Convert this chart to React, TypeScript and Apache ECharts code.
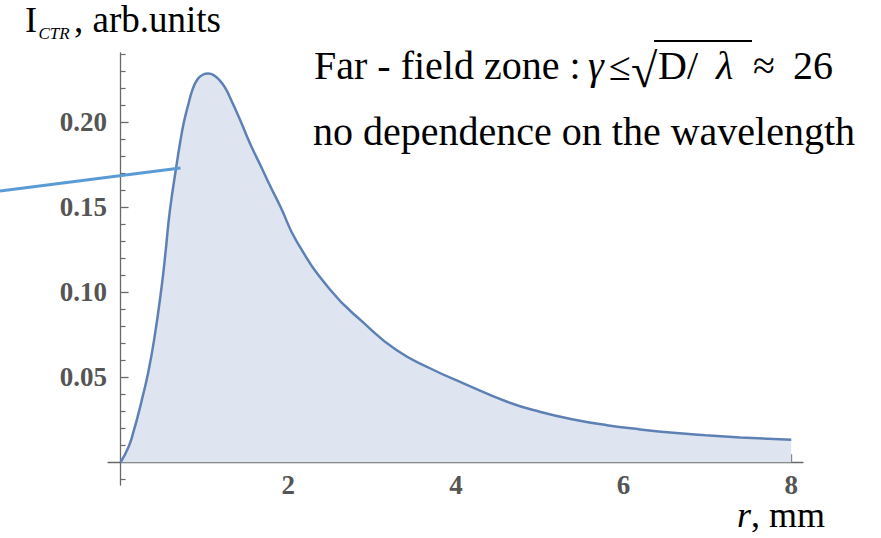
import { useEffect, useRef } from "react";
import * as echarts from "echarts";

// Radial distance r (mm) and CTR intensity (arb. units)
const radius = [
  0, 0.1, 0.16, 0.21, 0.26, 0.322, 0.4, 0.489, 0.535, 0.588, 0.665, 0.71, 0.755, 0.8, 0.86, 0.92,
  0.98, 1.045, 1.11, 1.18, 1.245, 1.33, 1.425, 1.54, 1.685, 1.78, 1.91, 2.1, 2.5, 2.9, 3.29, 3.69,
  4.09, 4.61, 5.0, 5.4, 5.8, 6.2, 6.59, 6.99, 7.39, 8.0,
];
const intensity = [
  0, 0.0096, 0.019, 0.028, 0.038, 0.051, 0.072, 0.103, 0.123, 0.148, 0.174, 0.188, 0.2, 0.209, 0.2195,
  0.2255, 0.228, 0.2287, 0.2278, 0.2248, 0.2205, 0.212, 0.2015, 0.188, 0.173, 0.163, 0.15, 0.13,
  0.1015, 0.082, 0.066, 0.0553, 0.0464, 0.0356, 0.0297, 0.0252, 0.0218, 0.0193, 0.0173, 0.0158,
  0.0146, 0.0132,
];

const xTicks = [2, 4, 6, 8];
const yTicks = [0.05, 0.1, 0.15, 0.2];

const serif = '"Liberation Serif", "Times New Roman", serif';
const axisGray = "#6a6a6a";
const labelGray = "#555555";
const curveBlue = "#5E81B5";

const tickLabel = {
  fontFamily: serif,
  fontWeight: "bold" as const,
  fontSize: 27,
  lineHeight: 22,
  color: labelGray,
};

// vertical centre of a text line whose baseline sits at `baseline`
const mid = (baseline: number, size: number) => baseline - 0.3375 * size;

const txt = (x: number, baseline: number, text: string, size: number, italic = false) => ({
  type: "text",
  x,
  y: mid(baseline, size),
  style: {
    text,
    font: `${italic ? "italic " : ""}${size}px ${serif}`,
    fill: "#000",
    verticalAlign: "middle",
    lineHeight: Math.round(size * 0.78),
  },
});

export default function App() {
  const ref = useRef<HTMLDivElement>(null);

  useEffect(() => {
    const chart = echarts.init(ref.current!, null, { renderer: "svg" });
    chart.setOption({
      animation: false,
      backgroundColor: "#ffffff",
      grid: { left: 108, right: 78, top: 53, bottom: 53, containLabel: false, outerBoundsMode: "none" },
      xAxis: {
        type: "value",
        min: -0.15,
        max: 8.14,
        splitNumber: 4,
        axisLine: { onZero: true, lineStyle: { color: axisGray, width: 1.3 } },
        axisTick: { inside: true, length: 8, customValues: xTicks, lineStyle: { color: axisGray, width: 1.3 } },
        minorTick: { show: true, splitNumber: 4, length: 5, lineStyle: { color: axisGray, width: 1.2 } },
        axisLabel: { ...tickLabel, customValues: xTicks, margin: -11, formatter: (v: number) => String(v) },
        splitLine: { show: false },
        minorSplitLine: { show: false },
      },
      yAxis: {
        type: "value",
        min: -0.0134,
        max: 0.2408,
        splitNumber: 5,
        axisLine: { onZero: true, lineStyle: { color: axisGray, width: 1.3 } },
        axisTick: { inside: true, length: 8, customValues: yTicks, lineStyle: { color: axisGray, width: 1.3 } },
        minorTick: { show: true, splitNumber: 5, length: 5, lineStyle: { color: axisGray, width: 1.2 } },
        axisLabel: { ...tickLabel, customValues: yTicks, margin: 1, formatter: (v: number) => v.toFixed(2) },
        splitLine: { show: false },
        minorSplitLine: { show: false },
      },
      series: [
        {
          type: "line",
          data: radius.map((r, i) => [r, intensity[i]]),
          showSymbol: false,
          smooth: 0.5,
          lineStyle: { color: curveBlue, width: 2.5 },
          areaStyle: { color: "#DFE5F0", opacity: 1 },
          z: 1,
        },
      ],
      graphic: [
        // axis names
        txt(25, 32, "I", 36),
        txt(38.5, 39, "CTR", 17, true),
        txt(74, 32, ", arb.units", 37),
        txt(737, 527, "r", 36, true),
        txt(751, 527, ", mm", 36),
        // far-field annotation
        txt(314, 79, "Far - field zone :", 40),
        txt(588, 79, "γ", 40, true),
        txt(609, 80, "≤", 40),
        txt(631, 87, "√", 48),
        { type: "line", shape: { x1: 654, y1: 41, x2: 752, y2: 41 }, style: { stroke: "#000", lineWidth: 2 } },
        txt(658, 79, "D/", 40),
        txt(716, 79, "λ", 40, true),
        txt(753, 79, "≈", 40),
        txt(793, 79, "26", 40),
        txt(313, 145, "no dependence on the wavelength", 40),
        // pointer line
        { type: "line", shape: { x1: 0, y1: 191, x2: 180.5, y2: 168 }, style: { stroke: "#5B9BD5", lineWidth: 3 }, z: 10 },
      ],
    });
    return () => chart.dispose();
  }, []);

  return (
    <div
      ref={ref}
      style={{ position: "fixed", left: 0, top: 0, width: 881, height: 538, background: "#fff" }}
    />
  );
}
